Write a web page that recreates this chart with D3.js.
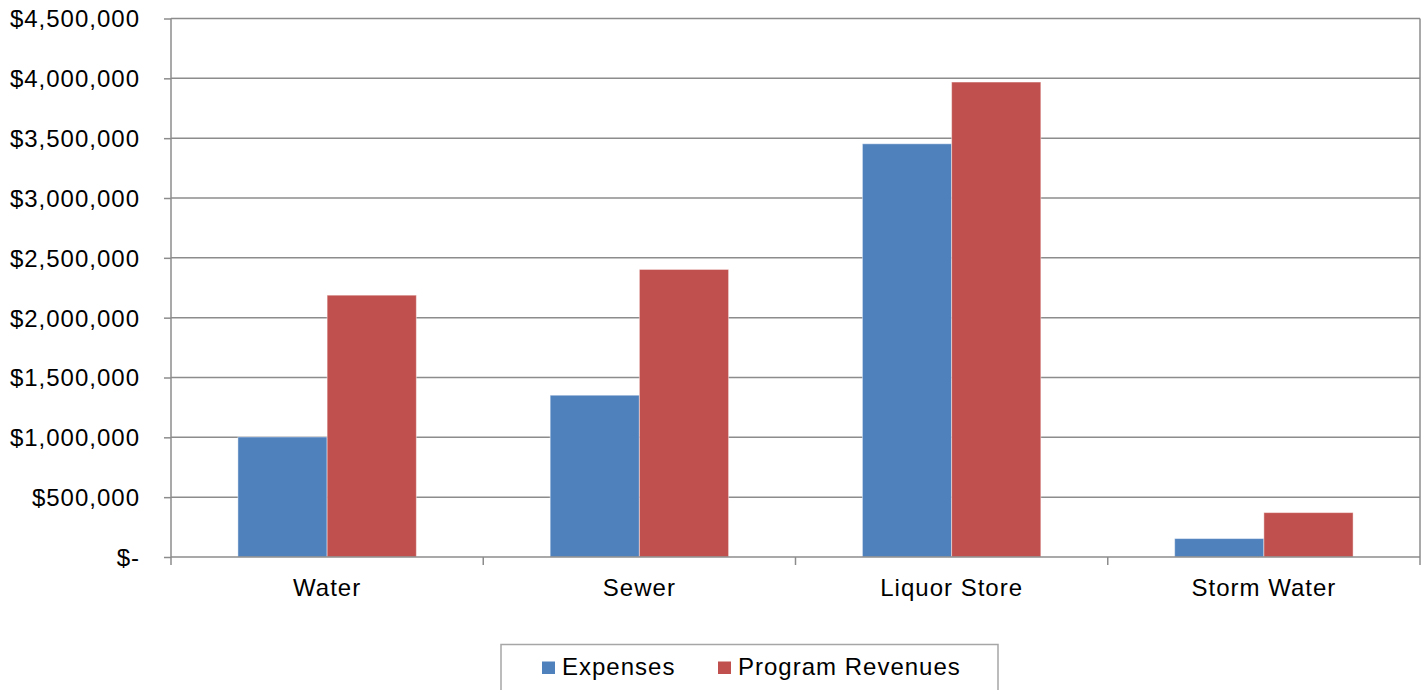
<!DOCTYPE html>
<html><head><meta charset="utf-8">
<script src="https://cdn.jsdelivr.net/npm/d3@7"></script>
<style>
html,body{margin:0;padding:0;background:#fff;}
svg{display:block;}
text{font-family:"Liberation Sans",Arial,sans-serif;font-size:24px;letter-spacing:1px;fill:#000;}
</style></head>
<body>
<svg id="chart" width="1426" height="690"></svg>
<script>
const categories = ["Water", "Sewer", "Liquor Store", "Storm Water"];
const seriesNames = ["Expenses", "Program Revenues"];
const expenses = [1003000, 1352000, 3453000, 154000];
const programRevenues = [2188000, 2403000, 3969000, 371000];
const yTicks = [0, 500000, 1000000, 1500000, 2000000, 2500000, 3000000, 3500000, 4000000, 4500000];
const colors = ["#4F81BD", "#C0504D"];

const svg = d3.select("#chart");
const L = 171, R = 1420, T = 18.5, B = 557;

const x0 = d3.scaleBand().domain(categories).range([L, R]).padding(0);
const x1 = d3.scaleBand().domain(seriesNames).range([0, x0.bandwidth()]).paddingInner(0).paddingOuter(0.75);
const y = d3.scaleLinear().domain([0, 4500000]).range([B, T]);
const fmt = d => d === 0 ? "$-" : "$" + d3.format(",")(d);

// gridlines
svg.append("g").selectAll("line").data(yTicks.filter(d => d > 0)).join("line")
  .attr("x1", L).attr("x2", R).attr("y1", d => y(d)).attr("y2", d => y(d))
  .attr("stroke", "#8c8c8c").attr("stroke-width", 1.5);

// right border
svg.append("line").attr("x1", R).attr("x2", R).attr("y1", T).attr("y2", B)
  .attr("stroke", "#8c8c8c").attr("stroke-width", 1.5);

// bars
const data = categories.map((c, i) => ({cat: c, vals: [expenses[i], programRevenues[i]]}));
const g = svg.append("g");
data.forEach(d => {
  d.vals.forEach((v, j) => {
    g.append("rect")
      .attr("x", x0(d.cat) + x1(seriesNames[j]))
      .attr("y", y(v))
      .attr("width", x1.bandwidth())
      .attr("height", y(0) - y(v))
      .attr("fill", colors[j])
      .attr("stroke", "rgba(255,255,255,0.45)")
      .attr("stroke-width", 1);
  });
});

// y axis
const yAxis = d3.axisLeft(y).tickValues(yTicks).tickFormat(fmt).tickSize(7).tickPadding(24);
const ya = svg.append("g").attr("transform", `translate(${L},0)`).call(yAxis);
ya.select(".domain").attr("stroke", "#8c8c8c").attr("stroke-width", 1.5).attr("d", `M-0,${T}V${B}`);
ya.selectAll(".tick line").attr("stroke", "#8c8c8c").attr("stroke-width", 1.5);
ya.selectAll(".tick text").attr("dy", "0.35em").style("font-size", "24px").style("font-family", '"Liberation Sans",Arial,sans-serif');

// x axis
const xa = svg.append("g").attr("transform", `translate(0,${B})`);
xa.append("line").attr("x1", L).attr("x2", R).attr("y1", 0).attr("y2", 0)
  .attr("stroke", "#8c8c8c").attr("stroke-width", 1.5);
const bounds = categories.map(c => x0(c)).concat([R]);
xa.selectAll("line.tk").data(bounds).join("line").attr("class", "tk")
  .attr("x1", d => d).attr("x2", d => d).attr("y1", 0).attr("y2", 8)
  .attr("stroke", "#8c8c8c").attr("stroke-width", 1.5);
xa.selectAll("text").data(categories).join("text")
  .attr("x", d => x0(d) + x0.bandwidth() / 2).attr("y", 39)
  .attr("text-anchor", "middle").text(d => d);

// legend
const lg = svg.append("g");
lg.append("rect").attr("x", 501).attr("y", 644.5).attr("width", 497).attr("height", 60)
  .attr("fill", "#fff").attr("stroke", "#a6a6a6").attr("stroke-width", 1.5);
const legX = [542, 718];
seriesNames.forEach((s, i) => {
  lg.append("rect").attr("x", legX[i]).attr("y", 661.5).attr("width", 13).attr("height", 12.5).attr("fill", colors[i]);
  lg.append("text").attr("x", legX[i] + 20).attr("y", 675).text(s);
});
</script>
</body></html>
